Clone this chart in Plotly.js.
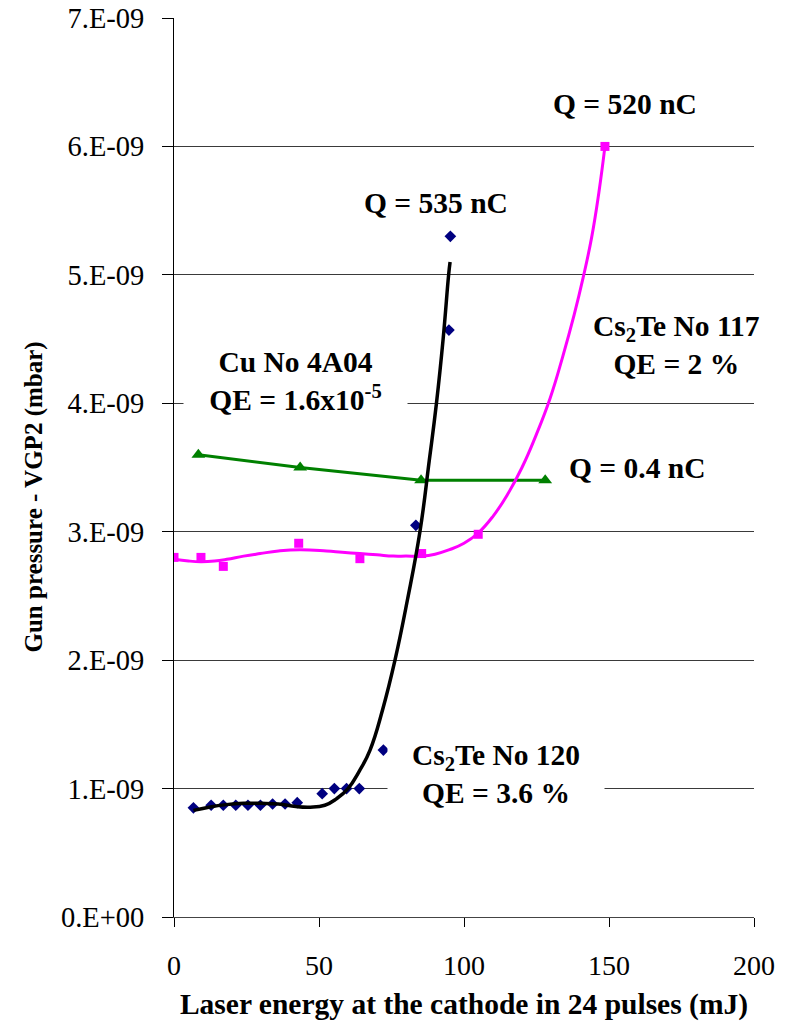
<!DOCTYPE html>
<html>
<head>
<meta charset="utf-8">
<script src="https://cdn.plot.ly/plotly-3.0.1.min.js"></script>
<style>html,body{margin:0;padding:0;background:#fff;}#chart{width:787px;height:1024px;}</style>
</head>
<body>
<div id="chart"></div>
<script>
// Cs2Te No 120 measured points (navy diamonds)
var cs120X = [6.7, 12.8, 17.0, 21.3, 25.5, 29.8, 34.0, 38.3, 42.5, 51.1, 55.3, 59.5, 63.9, 72.2, 83.4, 94.8, 95.3];
var cs120Y = [0.85e-9, 0.87e-9, 0.87e-9, 0.87e-9, 0.87e-9, 0.87e-9, 0.88e-9, 0.88e-9, 0.89e-9, 0.96e-9, 1.0e-9, 1.0e-9, 1.0e-9, 1.3e-9, 3.05e-9, 4.57e-9, 5.3e-9];
// Cs2Te No 120 trend curve (black)
var cs120FitX = [6.7, 12, 18, 24, 30, 36, 42, 47, 52, 56, 60, 64, 67.6, 72, 76.2, 80.5, 84.8, 88, 90.5, 92.8, 94.7, 95.2];
var cs120FitY = [0.83e-9, 0.855e-9, 0.875e-9, 0.885e-9, 0.885e-9, 0.88e-9, 0.86e-9, 0.855e-9, 0.87e-9, 0.92e-9, 1.0e-9, 1.14e-9, 1.30e-9, 1.62e-9, 2.0e-9, 2.47e-9, 3.0e-9, 3.55e-9, 4.0e-9, 4.5e-9, 5.0e-9, 5.1e-9];
// Cs2Te No 117 measured points (magenta squares)
var cs117X = [0, 9.3, 17.0, 43.0, 64.1, 85.4, 104.9, 148.6];
var cs117Y = [2.8e-9, 2.8e-9, 2.73e-9, 2.91e-9, 2.79e-9, 2.83e-9, 2.98e-9, 6.0e-9];
// Cs2Te No 117 trend curve (magenta)
var cs117FitX = [0, 5, 9.3, 14, 18.2, 24, 29.7, 36, 43.4, 52.6, 58, 64.1, 70, 75.6, 80, 85.4, 90, 95, 100, 104.9, 110, 115, 120, 125, 129.7, 134, 138, 141.1, 144, 146.5, 148.6];
var cs117FitY = [2.785e-9, 2.772e-9, 2.767e-9, 2.772e-9, 2.785e-9, 2.81e-9, 2.83e-9, 2.85e-9, 2.86e-9, 2.85e-9, 2.84e-9, 2.83e-9, 2.82e-9, 2.81e-9, 2.81e-9, 2.81e-9, 2.825e-9, 2.86e-9, 2.91e-9, 2.99e-9, 3.12e-9, 3.29e-9, 3.50e-9, 3.76e-9, 4.04e-9, 4.36e-9, 4.69e-9, 4.98e-9, 5.29e-9, 5.64e-9, 6.0e-9];
// Cu No 4A04 (green triangles)
var cuX = [8.4, 43.5, 85.2, 128.0];
var cuY = [3.6e-9, 3.5e-9, 3.4e-9, 3.4e-9];

var yTickVals = [0, 1e-9, 2e-9, 3e-9, 4e-9, 5e-9, 6e-9, 7e-9];
var yTickText = ['0.E+00', '1.E-09', '2.E-09', '3.E-09', '4.E-09', '5.E-09', '6.E-09', '7.E-09'];
var xTickVals = [0, 50, 100, 150, 200];

var serif = 'Liberation Serif';
var traces = [
  {x: cuX, y: cuY, mode: 'lines+markers', type: 'scatter',
   line: {color: '#008000', width: 3},
   marker: {symbol: 'triangle-up', size: 12, color: '#008000'}},
  {x: cs117FitX, y: cs117FitY, mode: 'lines', type: 'scatter',
   line: {color: '#FF00FF', width: 3, shape: 'spline', smoothing: 1.3}},
  {x: cs117X, y: cs117Y, mode: 'markers', type: 'scatter',
   marker: {symbol: 'square', size: 9, color: '#FF00FF'}},
  {x: cs120X, y: cs120Y, mode: 'markers', type: 'scatter',
   marker: {symbol: 'diamond', size: 9, color: '#000080'}},
  {x: cs120FitX, y: cs120FitY, mode: 'lines', type: 'scatter',
   line: {color: '#000000', width: 3.5, shape: 'spline', smoothing: 1.3}}
];

function ann(x, y, text, extra) {
  var a = {x: x, y: y, xref: 'x', yref: 'y', text: text, showarrow: false,
    font: {family: serif, size: 29.5, color: '#000'}, align: 'center', xanchor: 'center', yanchor: 'middle'};
  for (var k in extra) a[k] = extra[k];
  return a;
}

var layout = {
  width: 787, height: 1024,
  margin: {l: 174, r: 33, t: 18, b: 107},
  paper_bgcolor: '#fff', plot_bgcolor: '#fff',
  showlegend: false,
  font: {family: serif, color: '#000'},
  xaxis: {
    range: [0, 200], tickvals: xTickVals, ticks: 'outside', ticklen: 9, tickcolor: '#000',
    showgrid: false, zeroline: false, showline: true, linecolor: '#444', linewidth: 1,
    tickfont: {family: serif, size: 28, color: '#000'}, ticklabelstandoff: 14,
    title: {text: '<b>Laser energy at the cathode in 24 pulses (mJ)</b>', font: {family: serif, size: 29.5, color: '#000'}, standoff: 13}
  },
  yaxis: {
    range: [0, 7e-9], tickvals: yTickVals, ticktext: yTickText, ticks: 'outside', ticklen: 11, tickcolor: '#000',
    showgrid: true, gridcolor: '#3a3a3a', gridwidth: 1, zeroline: false,
    showline: true, linecolor: '#000', linewidth: 1,
    tickfont: {family: serif, size: 28.5, color: '#000'}, ticklabelstandoff: 12
  },
  annotations: [
    ann(90.5, 5.56e-9, '<b>Q = 535 nC</b>', {}),
    ann(155.5, 6.33e-9, '<b>Q = 520 nC</b>', {}),
    ann(173.4, 4.45e-9, '<b>Cs<sub>2</sub>Te No 117<br>QE = 2 %</b>', {}),
    ann(41.9, 4.17e-9, '<b>Cu No 4A04<br>QE = 1.6x10<sup>-5</sup></b>', {bgcolor: '#fff', width: 221}),
    ann(159.7, 3.50e-9, '<b>Q = 0.4 nC</b>', {}),
    ann(110.9, 1.11e-9, '<b>Cs<sub>2</sub>Te No 120<br>QE = 3.6 %</b>', {bgcolor: '#fff', width: 214}),
    {x: 0, y: 0, xref: 'paper', yref: 'paper', text: '<b>Gun pressure - VGP2 (mbar)</b>', showarrow: false,
     textangle: -90, font: {family: serif, size: 25, color: '#000'}, xanchor: 'center', yanchor: 'middle'}
  ]
};
var ytAnn = layout.annotations[layout.annotations.length - 1];
ytAnn.x = (33.5 - 174) / (787 - 174 - 33);
ytAnn.y = (917 - 497) / (917 - 18);

Plotly.newPlot('chart', traces, layout, {displayModeBar: false, staticPlot: true});
</script>
</body>
</html>
